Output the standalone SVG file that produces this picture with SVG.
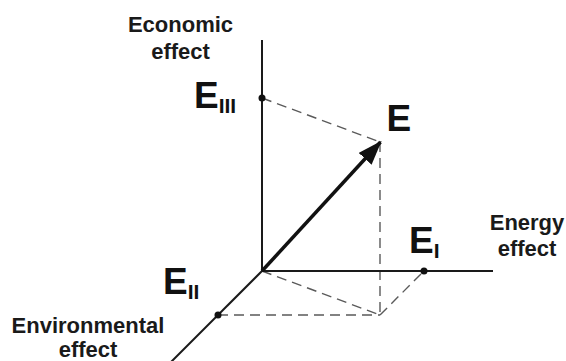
<svg xmlns="http://www.w3.org/2000/svg" width="566" height="361" viewBox="0 0 566 361">
<style>
.axis{stroke:#1a1a1a;stroke-width:2;fill:none}
.dash{stroke:#5a5a5a;stroke-width:1.4;stroke-dasharray:10 6;fill:none}
.lbl{font-family:"Liberation Sans",Arial,sans-serif;font-weight:bold;font-size:22px;fill:#1a1a1a;text-anchor:middle}
.big{font-family:"Liberation Sans",Arial,sans-serif;font-weight:bold;font-size:37px;fill:#111}
.sub{font-size:21px}
.dot{fill:#111}
</style>
<defs>
<marker id="ah" markerWidth="7" markerHeight="5" refX="6.5" refY="2.5" orient="auto" markerUnits="strokeWidth">
<path d="M0,0 L7,2.5 L0,5 Z" fill="#111"/>
</marker>
</defs>
<rect width="566" height="361" fill="#fff"/>
<g id="connectors">
<line class="dash" x1="262" y1="98" x2="380" y2="142"/>
<line class="dash" x1="380" y1="142" x2="380" y2="315"/>
<line class="dash" x1="262" y1="271" x2="380" y2="315"/>
<line class="dash" x1="218" y1="315" x2="380" y2="315"/>
<line class="dash" x1="380" y1="315" x2="424" y2="271"/>
<line class="axis" x1="262" y1="40" x2="262" y2="271"/>
<line class="axis" x1="262" y1="271" x2="493" y2="271"/>
<line class="axis" x1="262" y1="271" x2="170" y2="363"/>
<line x1="262" y1="271" x2="380.5" y2="142" stroke="#111" stroke-width="3.5" marker-end="url(#ah)"/>
</g>
<g id="economic-axis-label">
<text class="lbl" x="180.5" y="32">Economic</text>
<text class="lbl" x="180.5" y="59">effect</text>
</g>
<g id="energy-axis-label">
<text class="lbl" x="527" y="230">Energy</text>
<text class="lbl" x="527" y="256">effect</text>
</g>
<g id="environmental-axis-label">
<text class="lbl" x="88" y="333">Environmental</text>
<text class="lbl" x="88" y="357">effect</text>
</g>
<g id="E3">
<circle class="dot" cx="262" cy="98" r="3.5"/>
<text class="big" x="194" y="108">E<tspan class="sub" dy="5">III</tspan></text>
</g>
<g id="E">
<text class="big" x="386.5" y="131">E</text>
</g>
<g id="E1">
<circle class="dot" cx="424" cy="271" r="3.5"/>
<text class="big" x="409" y="253">E<tspan class="sub" dy="5">I</tspan></text>
</g>
<g id="E2">
<circle class="dot" cx="218" cy="315" r="3.5"/>
<text class="big" x="163" y="294">E<tspan class="sub" dy="5">II</tspan></text>
</g>
</svg>
